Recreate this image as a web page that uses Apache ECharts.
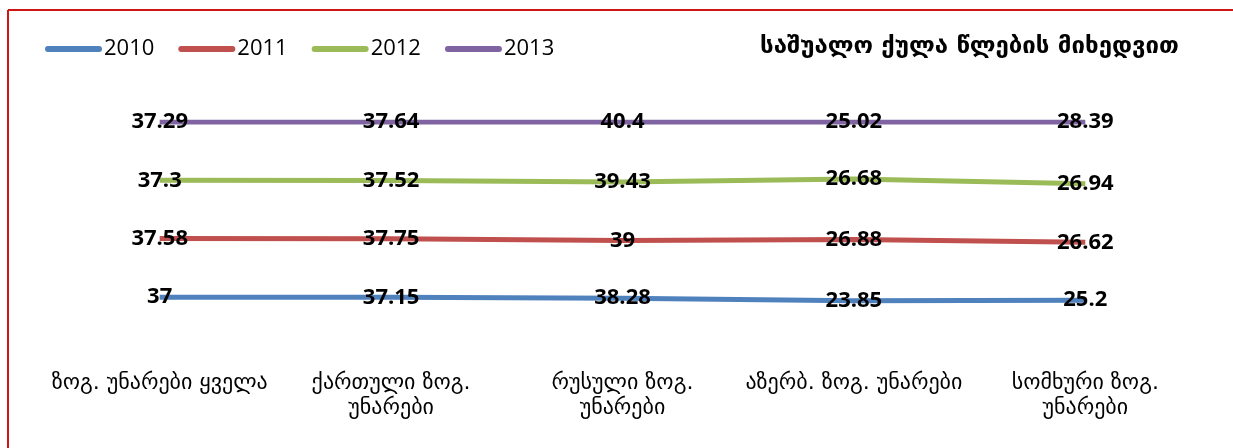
<!DOCTYPE html>
<html>
<head>
<meta charset="utf-8">
<script src="https://cdn.jsdelivr.net/npm/echarts@6/dist/echarts.min.js"></script>
<style>
  html, body { margin: 0; padding: 0; background: #fff; }
  #chart { width: 1233px; height: 448px; }
</style>
</head>
<body>
<div id="chart"></div>
<script>
// categories and yearly averages
const categories = [
  "ზოგ. უნარები ყველა",
  "ქართული ზოგ.\nუნარები",
  "რუსული ზოგ.\nუნარები",
  "აზერბ. ზოგ. უნარები",
  "სომხური ზოგ.\nუნარები"
];
const years = ["2010", "2011", "2012", "2013"];
const v2010 = [37, 37.15, 38.28, 23.85, 25.2];
const v2011 = [37.58, 37.75, 39, 26.88, 26.62];
const v2012 = [37.3, 37.52, 39.43, 26.68, 26.94];
const v2013 = [37.29, 37.64, 40.4, 25.02, 28.39];
const colors = ["#4F81BD", "#C0504D", "#9BBB59", "#8064A2"];

const allValues = [v2010, v2011, v2012, v2013];

// 100% stacked: share of each year in the category total
const totals = categories.map((c, i) =>
  allValues.reduce((s, arr) => s + arr[i], 0)
);

const labelFont = "'Open Sans', 'DejaVu Sans', sans-serif";
const geoFont = "'DejaVu Sans', 'Noto Sans', sans-serif";

const series = years.map((y, k) => ({
  name: y,
  type: "line",
  stack: "all",
  data: allValues[k].map((v, i) => (v / totals[i]) * 100),
  symbol: "circle",
  symbolSize: 0,
  showSymbol: true,
  lineStyle: { width: 5, color: colors[k] },
  itemStyle: { color: colors[k] },
  emphasis: { disabled: true },
  label: {
    show: true,
    position: "inside",
    formatter: (p) => String(allValues[k][p.dataIndex]),
    color: "#000",
    fontFamily: labelFont,
    fontWeight: "bold",
    fontSize: 22,
    textBorderWidth: 0
  }
}));

const chart = echarts.init(document.getElementById("chart"));

const option = {
  animation: false,
  color: colors,
  title: {
    text: "საშუალო ქულა წლების მიხედვით",
    left: 755,
    top: 30,
    textStyle: {
      fontFamily: geoFont,
      fontWeight: "bold",
      fontSize: 24,
      color: "#000"
    }
  },
  legend: {
    left: 40,
    top: 33,
    itemWidth: 57,
    itemHeight: 6,
    itemGap: 24,
    icon: "path://M3,0 L54,0 A3,3 0 0 1 54,6 L3,6 A3,3 0 0 1 3,0 Z",
    textStyle: {
      fontFamily: labelFont,
      fontSize: 22,
      color: "#000",
      padding: [0, 0, 0, -3]
    },
    data: years
  },
  grid: {
    left: 44,
    right: 32,
    top: 122,
    bottom: 93
  },
  xAxis: {
    type: "category",
    data: categories,
    boundaryGap: true,
    axisLine: { show: false },
    axisTick: { show: false },
    axisLabel: {
      interval: 0,
      margin: 16,
      color: "#000",
      fontFamily: geoFont,
      fontSize: 22,
      lineHeight: 25
    }
  },
  yAxis: {
    type: "value",
    min: 0,
    max: 100,
    show: false,
    splitLine: { show: false }
  },
  graphic: [
    {
      type: "line",
      shape: { x1: 8, y1: 10, x2: 1233, y2: 10 },
      style: { stroke: "#D01515", lineWidth: 2 }
    },
    {
      type: "line",
      shape: { x1: 8, y1: 10, x2: 8, y2: 448 },
      style: { stroke: "#D01515", lineWidth: 2 }
    }
  ],
  series: series
};

chart.setOption(option);
</script>
</body>
</html>
